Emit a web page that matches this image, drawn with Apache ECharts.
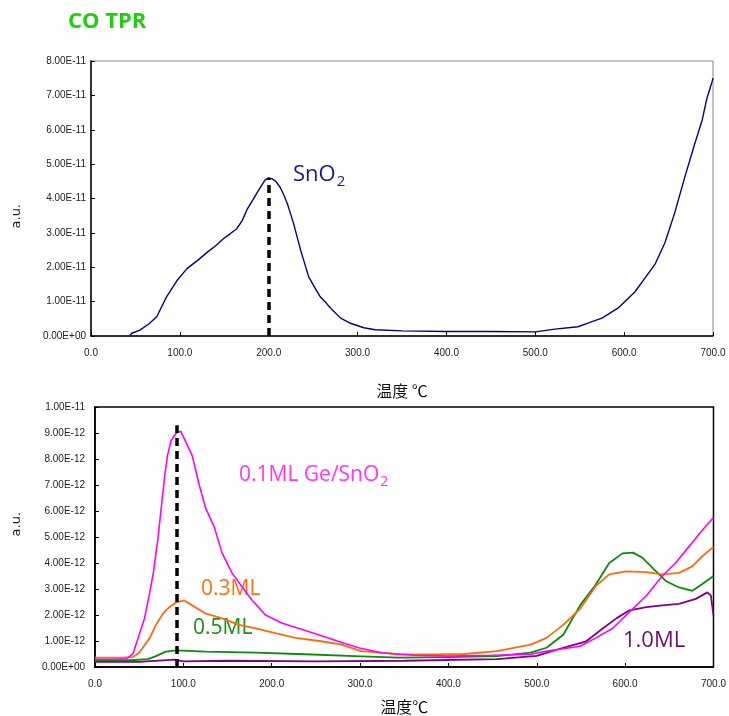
<!DOCTYPE html>
<html>
<head>
<meta charset="utf-8">
<script src="https://cdn.jsdelivr.net/npm/echarts@6/dist/echarts.min.js"></script>
<style>
  html, body { margin: 0; padding: 0; background: #fff; }
  #chart { width: 729px; height: 716px; }
</style>
</head>
<body>
<div id="chart"></div>
<script>
// top panel: SnO2, values in 1E-11
var tTop = [44,46,55,65,74,85,97,108,120,131,140,149,157,164,170,176,182,187,192,196,200,204,208,213,217,221,228,236,245,252,258,265,270,281,292,307,320,350,400,450,500,522,548,560,575,593,612,623,635,646,657,668,678,688,693,699,700];
var vTop = [0.02,0.08,0.17,0.35,0.56,1.14,1.62,1.96,2.2,2.44,2.62,2.83,2.98,3.12,3.35,3.7,3.95,4.17,4.38,4.54,4.6,4.57,4.5,4.32,4.1,3.85,3.27,2.49,1.72,1.4,1.14,0.95,0.8,0.52,0.37,0.24,0.18,0.15,0.13,0.13,0.12,0.2,0.27,0.38,0.52,0.81,1.28,1.67,2.1,2.72,3.59,4.6,5.47,6.3,6.9,7.4,7.5];

// bottom panel, values in 1E-12
var tMag = [0,20,36,43,50,56,62,66,71,75,79,82,86,92,97,103,110,118,125,135,144,155,167,178,193,212,230,253,275,298,324,360,400,450,493,511,530,549,567,586,605,624,642,657,672,687,700];
var vMag = [0.3,0.3,0.32,0.51,1.24,1.87,2.87,3.62,4.88,6.13,7.38,8.13,8.7,9.0,9.07,8.64,8.13,7.0,6.13,5.38,4.37,3.62,3.06,2.56,2.0,1.68,1.49,1.24,0.99,0.74,0.55,0.45,0.42,0.45,0.49,0.61,0.7,0.8,1.12,1.49,2.12,2.74,3.5,4.0,4.62,5.25,5.75];

var tOra = [0,30,43,50,62,69,77,84,92,101,110,125,144,163,182,204,227,256,279,301,324,343,380,418,455,493,511,530,549,567,582,601,624,642,661,676,687,700];
var vOra = [0.36,0.36,0.38,0.55,1.12,1.62,2.06,2.3,2.49,2.56,2.37,2.06,1.87,1.62,1.49,1.3,1.12,0.99,0.86,0.61,0.55,0.49,0.48,0.5,0.61,0.86,1.12,1.62,2.24,3.12,3.56,3.68,3.65,3.56,3.62,3.87,4.25,4.62];

var tGrn = [0,40,60,69,80,92,125,182,238,294,343,400,455,493,511,530,549,567,582,597,609,620,631,646,661,676,687,700];
var vGrn = [0.26,0.26,0.3,0.42,0.59,0.64,0.59,0.55,0.49,0.42,0.36,0.38,0.42,0.55,0.74,1.24,2.37,3.18,4.0,4.37,4.4,4.19,3.81,3.31,3.06,2.93,3.18,3.5];

var tPur = [0,50,90,100,150,250,350,455,500,530,556,575,590,605,624,642,661,680,693,697,700];
var vPur = [0.2,0.2,0.28,0.22,0.24,0.22,0.24,0.3,0.43,0.74,0.99,1.49,1.87,2.18,2.3,2.37,2.43,2.62,2.87,2.75,1.99];

var peakTop = [200, 4.6];
var peakBot = [92, 9.3];

function zip(t, v) {
  return t.map(function (x, i) { return [x, v[i]]; });
}

var chart = echarts.init(document.getElementById('chart'));

var tickFont = { fontSize: 10, color: '#222', fontFamily: 'Liberation Sans' };
var cjk = 'Noto Sans CJK JP';
var latin = 'Open Sans';

function xAxisCfg(gridIndex, nameGap) {
  return {
    gridIndex: gridIndex, type: 'value', min: 0, max: 700, interval: 100,
    name: gridIndex === 0 ? '温度 ℃' : '温度℃',
    nameLocation: 'middle', nameGap: nameGap,
    nameTextStyle: { fontSize: 16, color: '#111', fontFamily: cjk },
    axisLine: { lineStyle: { color: '#000', width: 1.5 } },
    axisTick: { inside: true, length: 4, lineStyle: { color: '#000' } },
    axisLabel: Object.assign({ margin: 12, formatter: function (v) { return v.toFixed(1); } }, tickFont),
    splitLine: { show: false }
  };
}

function markDash(pt) {
  return {
    silent: true, symbol: 'none', animation: false,
    lineStyle: { color: '#000', width: 3.5, type: [8, 5] },
    label: { show: false },
    data: [[{ coord: [pt[0], 0] }, { coord: pt }]]
  };
}

chart.setOption({
  animation: false,
  title: {
    text: 'CO TPR', left: 63, top: 6,
    textStyle: { color: '#22cc11', fontSize: 22, fontWeight: 'bold', fontFamily: latin }
  },
  grid: [
    { left: 91, right: 16, top: 61, height: 275, show: true, borderColor: '#888', borderWidth: 1 },
    { left: 95, right: 11, top: 407, height: 266, show: true, borderColor: '#000', borderWidth: 1.5 }
  ],
  xAxis: [xAxisCfg(0, 47), xAxisCfg(1, 32)],
  yAxis: [
    {
      gridIndex: 0, type: 'value', min: 0, max: 8, interval: 1,
      axisLine: { show: true, lineStyle: { color: '#000', width: 1.5 } },
      axisTick: { inside: true, length: 4, lineStyle: { color: '#000' } },
      axisLabel: Object.assign({ margin: 5, formatter: function (v) {
        return v === 0 ? '0.00E+00' : v.toFixed(2) + 'E-11';
      } }, tickFont),
      splitLine: { show: false }
    },
    {
      gridIndex: 1, type: 'value', min: 0, max: 10, interval: 1,
      axisLine: { show: true, lineStyle: { color: '#000', width: 1.5 } },
      axisTick: { inside: true, length: 4, lineStyle: { color: '#000' } },
      axisLabel: Object.assign({ margin: 10, formatter: function (v) {
        if (v === 0) return '0.00E+00';
        if (v === 10) return '1.00E-11';
        return v.toFixed(2) + 'E-12';
      } }, tickFont),
      splitLine: { show: false }
    }
  ],
  series: [
    {
      name: 'SnO2', type: 'line', xAxisIndex: 0, yAxisIndex: 0, showSymbol: false,
      data: zip(tTop, vTop), lineStyle: { color: '#000080', width: 1.4 },
      markLine: markDash(peakTop)
    },
    {
      name: '1.0ML', type: 'line', xAxisIndex: 1, yAxisIndex: 1, showSymbol: false,
      data: zip(tPur, vPur), lineStyle: { color: '#800080', width: 1.8 }
    },
    {
      name: '0.5ML', type: 'line', xAxisIndex: 1, yAxisIndex: 1, showSymbol: false,
      data: zip(tGrn, vGrn), lineStyle: { color: '#0a8a0a', width: 1.8 }
    },
    {
      name: '0.3ML', type: 'line', xAxisIndex: 1, yAxisIndex: 1, showSymbol: false,
      data: zip(tOra, vOra), lineStyle: { color: '#ff6a10', width: 1.8 }
    },
    {
      name: '0.1ML Ge/SnO2', type: 'line', xAxisIndex: 1, yAxisIndex: 1, showSymbol: false,
      data: zip(tMag, vMag), lineStyle: { color: '#ff00ff', width: 1.6 },
      markLine: markDash(peakBot)
    }
  ],
  graphic: [
    { type: 'text', left: 10, top: 204, rotation: Math.PI / 2,
      style: { text: 'a.u.', fontSize: 13, fill: '#222', fontFamily: 'DejaVu Sans' } },
    { type: 'text', left: 10, top: 512, rotation: Math.PI / 2,
      style: { text: 'a.u.', fontSize: 13, fill: '#222', fontFamily: 'DejaVu Sans' } },
    { type: 'text', left: 293, top: 164,
      style: { text: '{a|SnO}{b|2}', rich: {
        a: { fontSize: 22, fill: '#1a1a8c', fontFamily: latin },
        b: { fontSize: 15, fill: '#1a1a8c', fontFamily: latin, padding: [13, 0, 0, 1] } } } },
    { type: 'text', left: 239, top: 465,
      style: { text: '{a|0.1ML Ge/SnO}{b|2}', rich: {
        a: { fontSize: 21, fill: '#ff33ff', fontFamily: latin },
        b: { fontSize: 14, fill: '#ff33ff', fontFamily: latin, padding: [13, 0, 0, 1] } } } },
    { type: 'text', left: 201, top: 579,
      style: { text: '0.3ML', fontSize: 21, fill: '#ff7010', fontFamily: latin } },
    { type: 'text', left: 193, top: 618,
      style: { text: '0.5ML', fontSize: 21, fill: '#1a8c1a', fontFamily: latin } },
    { type: 'text', left: 623, top: 630,
      style: { text: '1.0ML', fontSize: 22, fill: '#6a106a', fontFamily: latin } }
  ]
});
</script>
</body>
</html>
